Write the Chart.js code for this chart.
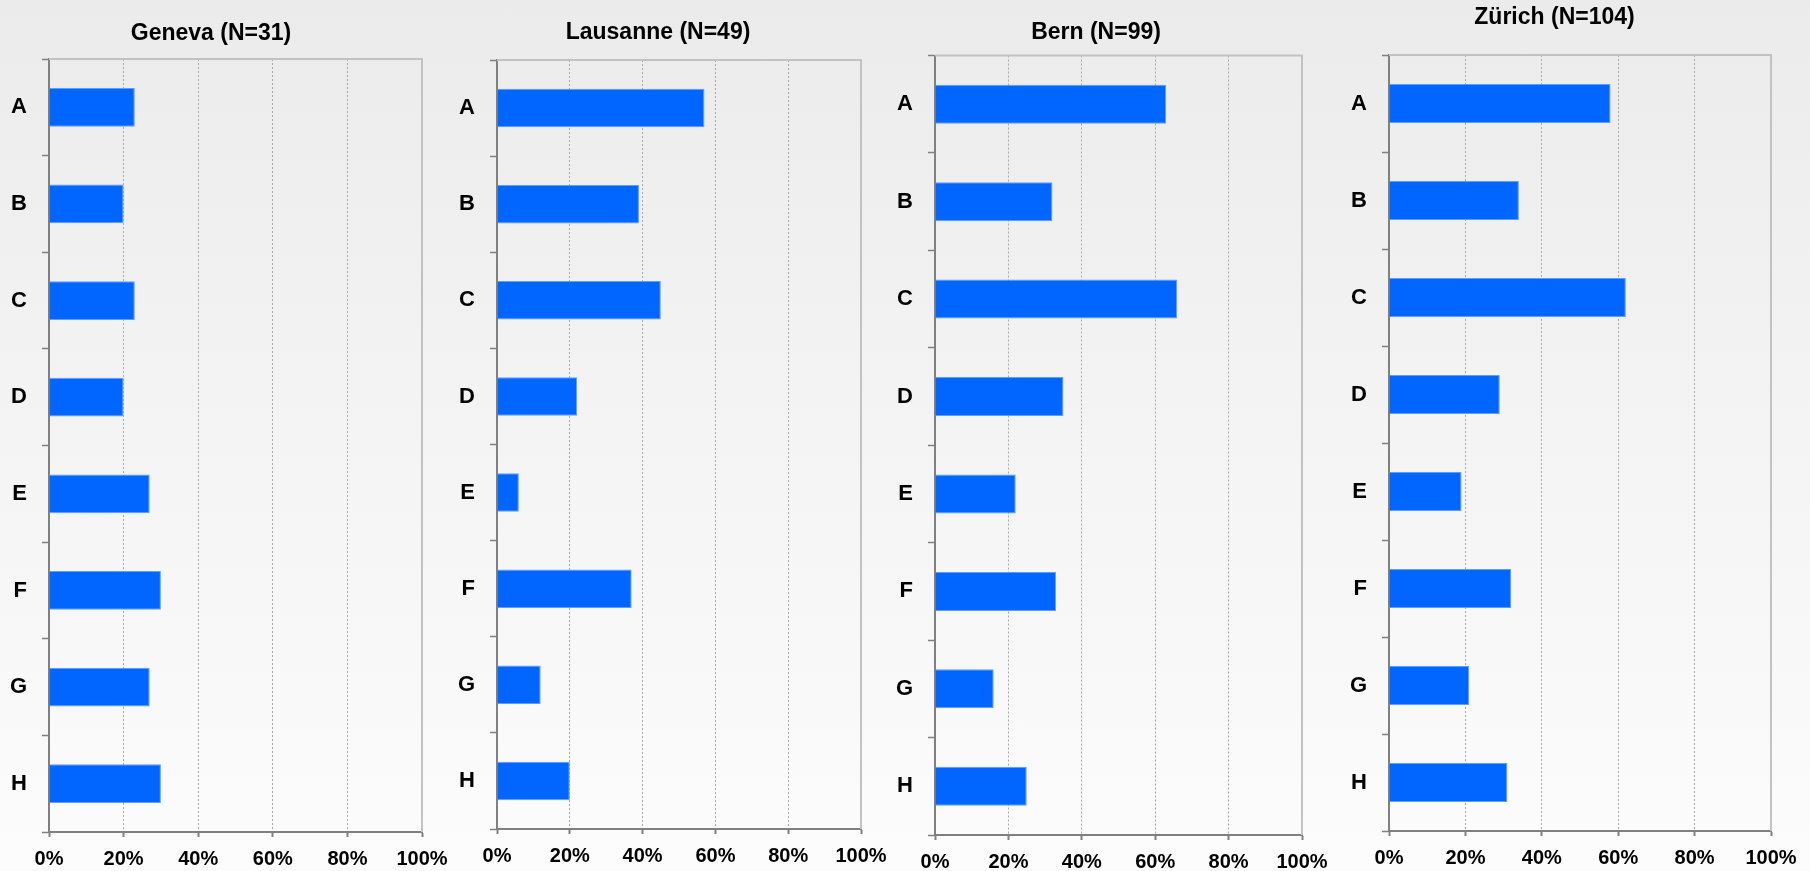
<!DOCTYPE html>
<html>
<head>
<meta charset="utf-8">
<script src="https://cdn.jsdelivr.net/npm/chart.js@4.4.0/dist/chart.umd.min.js"></script>
<style>
	html, body { margin: 0; padding: 0; width: 1810px; height: 871px; overflow: hidden; }
	body { position: relative; background: linear-gradient( to bottom, #ebebeb 0%, #f3f3f3 45%, #fcfcfc 100% ); }
	.panel { position: absolute; top: 0; height: 871px; }
</style>
</head>
<body>
<div class="panel" id="panel_0"><canvas id="chart_0"></canvas></div>
<div class="panel" id="panel_1"><canvas id="chart_1"></canvas></div>
<div class="panel" id="panel_2"><canvas id="chart_2"></canvas></div>
<div class="panel" id="panel_3"><canvas id="chart_3"></canvas></div>
<script>

/*
 |
 | Data (shares in %)
 |
 */
const categories = [ "A", "B", "C", "D", "E", "F", "G", "H" ];
const panelTitles = [ "Geneva (N=31)", "Lausanne (N=49)", "Bern (N=99)", "Zürich (N=104)" ];
const genevaValues = [ 23, 20, 23, 20, 27, 30, 27, 30 ];
const lausanneValues = [ 57, 39, 45, 22, 6, 37, 12, 20 ];
const bernValues = [ 63, 32, 66, 35, 22, 33, 16, 25 ];
const zurichValues = [ 58, 34, 62, 29, 19, 32, 21, 31 ];
const xTickValues = [ 0, 20, 40, 60, 80, 100 ];

const seriesByPanel = [ genevaValues, lausanneValues, bernValues, zurichValues ];

/*
 |
 | Where each small chart sits on the page
 |
 */
const panelBoxes = [
	{ left: 0,    width: 449, plotLeft: 49,   plotRight: 422,  plotTop: 59,   plotBottom: 832, titleY: 33.5 },
	{ left: 455,  width: 445, plotLeft: 497,  plotRight: 861,  plotTop: 60,   plotBottom: 829, titleY: 33 },
	{ left: 890,  width: 440, plotLeft: 935,  plotRight: 1302, plotTop: 55.5, plotBottom: 835, titleY: 33 },
	{ left: 1338, width: 463, plotLeft: 1389, plotRight: 1771, plotTop: 55,   plotBottom: 831, titleY: 18 }
];

const FONT = "'Liberation Sans', Arial, Helvetica, sans-serif";
const CANVAS_HEIGHT = 871;
const TITLE_SIZE = 23;
const TITLE_LINE = TITLE_SIZE * 1.2;

// top + right edge of the plot box (light grey)
const plotFrame = {
	id: "plotFrame",
	beforeDatasetsDraw ( chart ) {
		let { ctx, chartArea } = chart;
		ctx.save();
		ctx.strokeStyle = "#c2c2c2";
		ctx.lineWidth = 2;
		ctx.beginPath();
		ctx.moveTo( chartArea.left, chartArea.top );
		ctx.lineTo( chartArea.right, chartArea.top );
		ctx.lineTo( chartArea.right, chartArea.bottom );
		ctx.stroke();
		ctx.restore();
	}
};

function buildPanel ( index ) {
	let box = panelBoxes[ index ];
	let holder = document.getElementById( "panel_" + index );
	holder.style.left = box.left + "px";
	holder.style.width = box.width + "px";

	let chartData = {
		labels: categories,
		datasets: [ {
			data: seriesByPanel[ index ],
			backgroundColor: "#0066ff",
			borderColor: "#5c9dff",
			borderWidth: { top: 1, right: 1, bottom: 1, left: 0 },
			borderSkipped: false,
			barPercentage: 0.4,
			categoryPercentage: 1
		} ]
	};

	let chartScales = {
		x: {
			type: "linear",
			min: 0,
			max: 100,
			afterBuildTicks: function ( scale ) {
				scale.ticks = xTickValues.map( v => ( { value: v } ) );
			},
			afterFit: function ( scale ) {
				scale.height = CANVAS_HEIGHT - box.plotBottom;
				scale.paddingLeft = 0;
				scale.paddingRight = 0;
			},
			grid: {
				color: "#a9a9a9",
				lineWidth: 1,
				tickLength: 5,
				tickColor: "#808080",
				tickWidth: 2,
				tickBorderDash: []
			},
			border: {
				color: "#808080",
				width: 2,
				dash: [ 2, 2 ]
			},
			ticks: {
				color: "#000",
				padding: 10,
				maxRotation: 0,
				font: { family: FONT, size: 20, weight: "bold" },
				callback: function ( value ) {
					return value + "%";
				}
			}
		},
		y: {
			type: "category",
			afterFit: function ( scale ) {
				scale.width = box.plotLeft - box.left;
				scale.paddingTop = 0;
				scale.paddingBottom = 0;
			},
			grid: {
				drawOnChartArea: false,
				tickLength: 7,
				tickColor: "#808080",
				tickWidth: 1.5
			},
			border: {
				color: "#808080",
				width: 2
			},
			ticks: {
				color: "#000",
				padding: 15,
				font: { family: FONT, size: 22, weight: "bold" }
			}
		}
	};

	let chartConfig = {
		type: "bar",
		data: chartData,
		options: {
			indexAxis: "y",
			responsive: true,
			maintainAspectRatio: false,
			animation: false,
			layout: {
				padding: { top: 0, bottom: 0, left: 0, right: box.left + box.width - box.plotRight }
			},
			scales: chartScales,
			plugins: {
				legend: { display: false },
				tooltip: { enabled: false },
				title: {
					display: true,
					text: panelTitles[ index ],
					color: "#000",
					font: { family: FONT, size: TITLE_SIZE, weight: "bold", lineHeight: 1.2 },
					padding: {
						top: box.titleY - TITLE_LINE / 2,
						bottom: box.plotTop - box.titleY - TITLE_LINE / 2
					}
				}
			}
		},
		plugins: [ plotFrame ]
	};

	return new Chart( document.getElementById( "chart_" + index ), chartConfig );
}

for ( let i = 0; i < panelBoxes.length; i += 1 )
	buildPanel( i );

</script>
</body>
</html>
